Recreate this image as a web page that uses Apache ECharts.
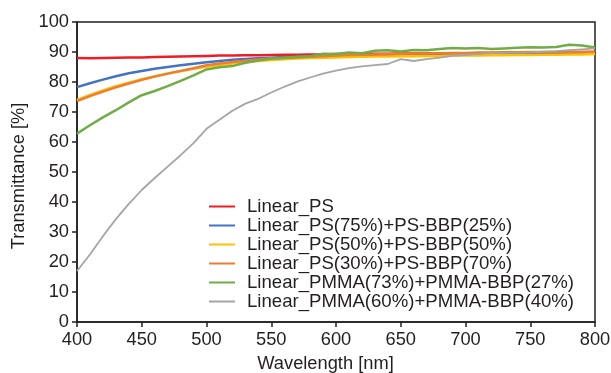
<!DOCTYPE html>
<html><head><meta charset="utf-8">
<script src="https://cdn.jsdelivr.net/npm/echarts@6/dist/echarts.min.js"></script>
<style>html,body{margin:0;padding:0;background:#fff}#c{width:611px;height:373px}</style>
</head><body><div id="c"></div>
<script>
const wavelengths = [400,410,420,430,440,450,460,470,480,490,500,510,520,530,540,550,560,570,580,590,600,610,620,630,640,650,660,670,680,690,700,710,720,730,740,750,760,770,780,790,800];
const linearPS = [88.0,87.9,88.0,88.1,88.2,88.2,88.3,88.4,88.5,88.6,88.7,88.8,88.8,88.9,88.9,89.0,89.1,89.1,89.2,89.2,89.3,89.3,89.4,89.4,89.4,89.5,89.5,89.5,89.6,89.6,89.6,89.6,89.7,89.7,89.7,89.8,89.8,89.8,89.9,89.9,90.0];
const ps75 = [78.3,79.6,80.8,81.9,82.9,83.7,84.4,85.0,85.6,86.1,86.6,87.0,87.4,87.7,87.9,88.1,88.3,88.4,88.6,88.7,88.8,88.9,89.0,89.0,89.1,89.2,89.2,89.3,89.3,89.4,89.4,89.4,89.5,89.5,89.5,89.6,89.6,89.7,89.7,89.8,89.8];
const ps50 = [74.0,75.7,77.2,78.6,79.8,80.9,81.9,82.8,83.6,84.4,85.1,85.7,86.2,86.6,87.0,87.3,87.6,87.8,88.0,88.1,88.2,88.3,88.4,88.5,88.5,88.6,88.6,88.7,88.7,88.8,88.8,88.8,88.9,88.9,89.0,89.0,89.1,89.1,89.2,89.2,89.3];
const ps30 = [73.6,75.3,76.8,78.2,79.5,80.7,81.8,82.8,83.7,84.6,85.6,86.2,86.7,87.1,87.5,87.8,88.0,88.2,88.4,88.6,88.8,89.0,89.1,89.2,89.3,89.4,89.5,89.5,89.6,89.7,89.7,89.8,89.8,89.9,89.9,90.0,90.0,90.0,90.1,90.1,90.1];
const pmma73 = [62.8,65.6,68.2,70.6,73.2,75.6,77.0,78.6,80.4,82.2,84.2,84.9,85.3,86.4,87.2,87.8,88.1,88.4,88.6,89.4,89.3,89.8,89.6,90.4,90.6,90.2,90.7,90.6,91.0,91.3,91.2,91.3,91.0,91.2,91.4,91.6,91.5,91.7,92.4,92.2,91.5];
const pmma60 = [17.0,22.5,28.6,34.3,39.4,44.0,48.0,51.8,55.6,59.6,64.4,67.4,70.4,72.8,74.4,76.5,78.4,80.1,81.5,82.8,83.8,84.6,85.2,85.6,86.0,87.6,87.0,87.6,88.1,88.7,89.0,89.4,89.6,89.7,89.8,89.9,90.1,90.3,90.6,90.9,91.2];
const seriesNames = ['Linear_PS','Linear_PS(75%)+PS-BBP(25%)','Linear_PS(50%)+PS-BBP(50%)','Linear_PS(30%)+PS-BBP(70%)','Linear_PMMA(73%)+PMMA-BBP(27%)','Linear_PMMA(60%)+PMMA-BBP(40%)'];
const seriesValues = [linearPS, ps75, ps50, ps30, pmma73, pmma60];
const colors = ['#ee1c25','#4472c4','#ffc000','#ed7d31','#70ad47','#a5a5a5'];
const widths = [2.5,2.5,2.5,2.5,2.5,1.8];
const xTicks = [400,450,500,550,600,650,700,750,800];
const yTicks = [0,10,20,30,40,50,60,70,80,90,100];

const font = 'Liberation Sans, Arial, sans-serif';
const chart = echarts.init(document.getElementById('c'), null, {renderer:'canvas'});
chart.setOption({
  animation: false,
  color: colors,
  grid: {left: 77, right: 16, top: 22, bottom: 51, outerBoundsMode: 'none', containLabel: false, show: true, borderColor: '#231f20', borderWidth: 1.5, backgroundColor: 'transparent'},
  xAxis: {
    type: 'value', min: xTicks[0], max: xTicks[xTicks.length-1], interval: 50,
    name: 'Wavelength [nm]', nameLocation: 'middle', nameGap: 33,
    nameTextStyle: {fontFamily: font, fontSize: 18.3, color: '#231f20', padding: [0,21,0,0]},
    axisLine: {show: true, lineStyle: {color: '#231f20', width: 1.5}},
    axisTick: {show: true, length: 5, lineStyle: {color: '#231f20', width: 1.5}},
    axisLabel: {fontFamily: font, fontSize: 18.3, color: '#231f20', margin: 9},
    splitLine: {show: false}
  },
  yAxis: {
    type: 'value', min: yTicks[0], max: yTicks[yTicks.length-1], interval: 10,
    name: 'Transmittance [%]', nameLocation: 'middle', nameGap: 47, nameRotate: 90,
    nameTextStyle: {fontFamily: font, fontSize: 18.3, color: '#231f20', padding: [0,8,0,0]},
    axisLine: {show: true, lineStyle: {color: '#231f20', width: 1.5}},
    axisTick: {show: true, length: 5, lineStyle: {color: '#231f20', width: 1.5}},
    axisLabel: {fontFamily: font, fontSize: 18.3, color: '#231f20', margin: 8},
    splitLine: {show: false}
  },
  legend: {
    orient: 'vertical', left: 209, top: 197, itemWidth: 26, itemHeight: 2, itemGap: 0,
    icon: 'rect', padding: 0,
    textStyle: {fontFamily: font, fontSize: 18.6, color: '#231f20', lineHeight: 18, padding: [0,0,0,7]},
    data: seriesNames
  },
  series: seriesNames.map((n, i) => ({
    name: n, type: 'line', showSymbol: false, symbol: 'none',
    lineStyle: {width: widths[i], color: colors[i]},
    itemStyle: {color: colors[i]},
    data: wavelengths.map((w, j) => [w, seriesValues[i][j]])
  }))
});
</script></body></html>
